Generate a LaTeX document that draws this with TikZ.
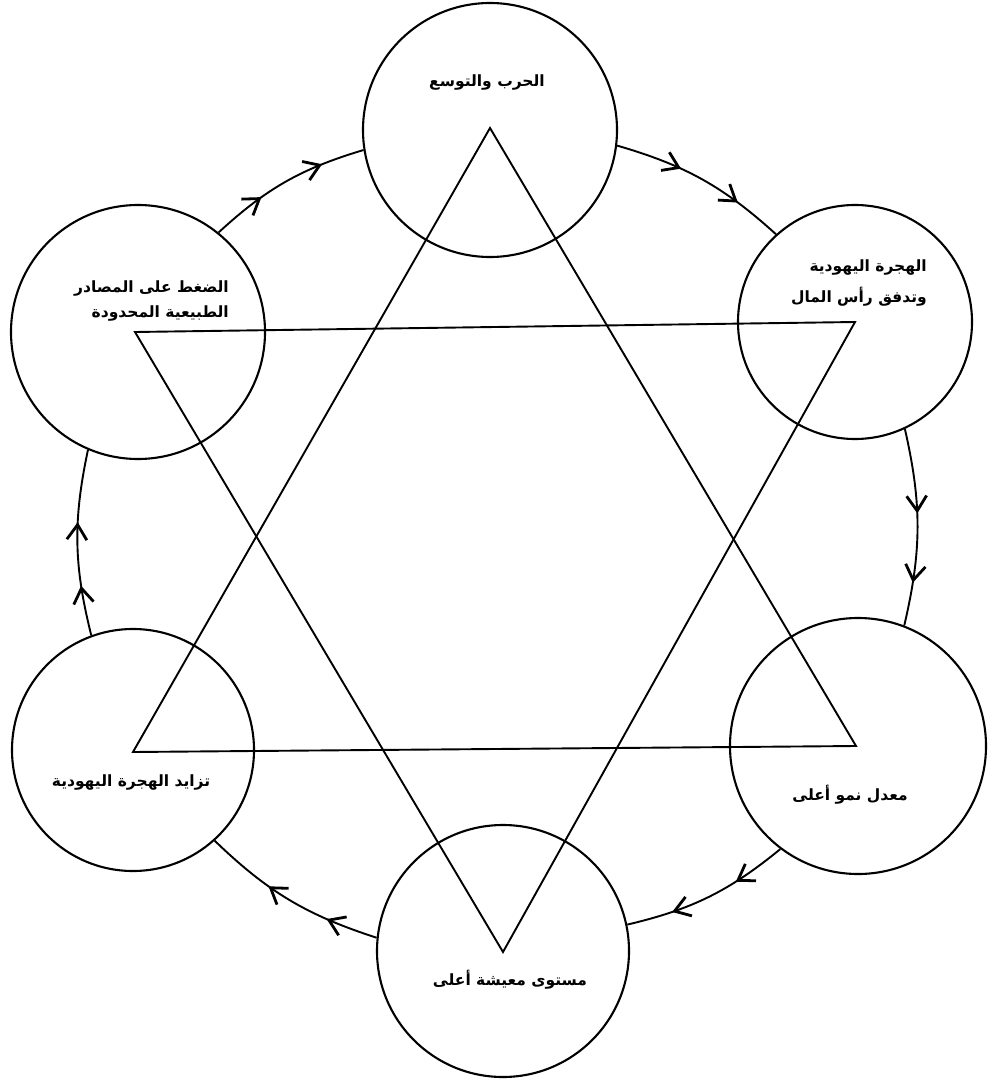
\documentclass[tikz,border=0pt]{standalone}
\usepackage{fontspec}
\newfontfamily\arabicfont[Script=Arabic]{DejaVu Sans}
\TeXXeTstate=1
\usetikzlibrary{arrows.meta,decorations.markings}
\begin{document}
\begin{tikzpicture}[x=1pt,y=1pt,
  circ/.style={draw,circle,line width=2.1pt,inner sep=0pt},
  tri/.style={line width=1.9pt,line join=miter},
  lbl/.style={font=\arabicfont\bfseries\fontsize{15.5}{28}\selectfont,align=right,inner sep=0pt},
  barb/.tip={Straight Barb[length=15pt,width=20pt,line width=2.8pt]},
  conn/.style 2 args={line width=1.9pt,postaction={decorate},
    decoration={markings,
      mark=at position #1 with {\arrow{barb}},
      mark=at position #2 with {\arrow{barb}}}}
]
\useasboundingbox (0,0) rectangle (990,-1083);
% circles
\node[circ,minimum size=254pt] (war) at (490,-130) {};
\node[circ,minimum size=234pt] (immcap) at (855,-322) {};
\node[circ,minimum size=256pt] (growth) at (858,-746) {};
\node[circ,minimum size=252pt] (living) at (503,-951) {};
\node[circ,minimum size=242pt] (moreimm) at (133,-750) {};
\node[circ,minimum size=254pt] (press) at (138,-332) {};
% labels
\node[lbl] (twar) at (487,-83) {\beginR الحرب والتوسع\endR};
\node[lbl,anchor=east,font=\arabicfont\bfseries\fontsize{15.5}{31}\selectfont] (timm) at (927,-283) {\beginR الهجرة اليهودية\endR\\\beginR وتدفق رأس المال\endR};
\node[lbl,anchor=east,font=\arabicfont\bfseries\fontsize{15.5}{25}\selectfont] (tpress) at (229,-301) {\beginR الضغط على المصادر\endR\\\beginR الطبيعية المحدودة\endR};
\node[lbl] (tgrowth) at (850,-795) {\beginR معدل نمو أعلى\endR};
\node[lbl] (tliving) at (510,-980) {\beginR مستوى معيشة أعلى\endR};
\node[lbl] (tmore) at (131,-782) {\beginR تزايد الهجرة اليهودية\endR};
% triangles
\coordinate (T1) at (490,-128);
\coordinate (T2) at (856,-746);
\coordinate (T3) at (133,-752);
\coordinate (D1) at (135,-332);
\coordinate (D2) at (855,-322);
\coordinate (D3) at (503,-952);
\draw[tri] (T1) -- (T2) -- (T3) -- cycle;
\draw[tri] (D1) -- (D2) -- (D3) -- cycle;
% connectors
\draw[conn={0.37}{0.73}] (war.-7) to[bend left=13] (immcap.132);
\draw[conn={0.43}{0.78}] (immcap.-65) to[bend left=13] (growth.69);
\draw[conn={0.32}{0.73}] (growth.233) to[bend left=13] (living.12);
\draw[conn={0.28}{0.63}] (living.174) to[bend left=13] (moreimm.-48);
\draw[conn={0.27}{0.61}] (moreimm.110) to[bend left=13] (press.247);
\draw[conn={0.33}{0.74}] (press.51) to[bend left=13] (war.189);
\end{tikzpicture}
\end{document}
